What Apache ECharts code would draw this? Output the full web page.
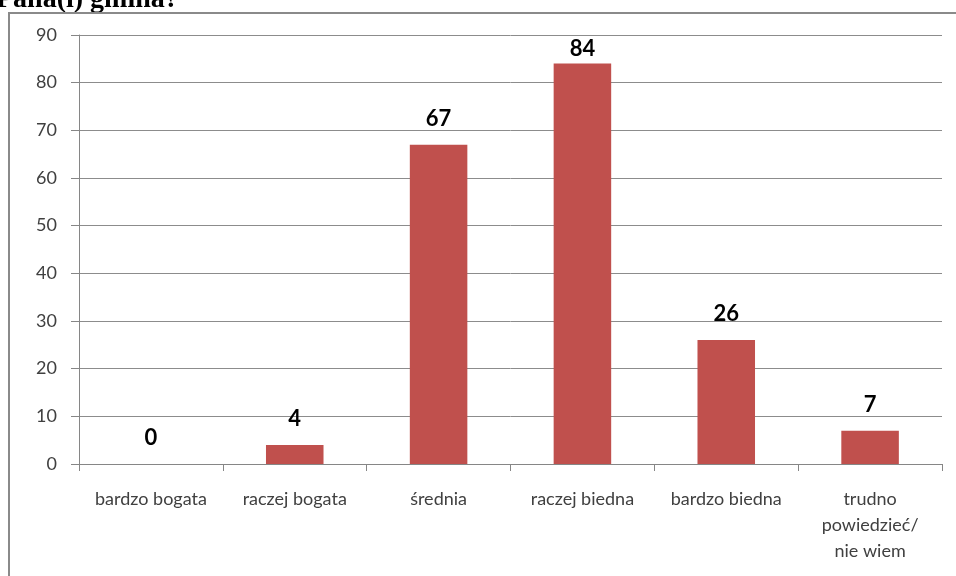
<!DOCTYPE html>
<html>
<head>
<meta charset="utf-8">
<script src="https://cdn.jsdelivr.net/npm/echarts@6/dist/echarts.min.js"></script>
<style>
  html, body { margin: 0; padding: 0; background: #fff; }
  #chart { width: 956px; height: 576px; }
</style>
</head>
<body>
<div id="chart"></div>
<script>
const categories = ["bardzo bogata", "raczej bogata", "średnia", "raczej biedna", "bardzo biedna", "trudno\npowiedzieć/\nnie wiem"]
const values = [0, 4, 67, 84, 26, 7]
const yTicks = { min: 0, max: 90, interval: 10 }
const titleText = "Pana(i) gmina?"

const chart = echarts.init(document.getElementById("chart"))

// the tallest label sits closer to its bar (as in the original chart)
const barData = values.map((v, i) =>
  i === 3 ? { value: v, label: { distance: 4 } } : v
)

const option = {
  animation: false,
  graphic: [
    {
      type: "text",
      left: -4,
      top: -14,
      style: {
        text: titleText,
        font: "bold 28px 'Liberation Serif'",
        fill: "#000"
      }
    },
    {
      type: "rect",
      shape: { x: 9, y: 13, width: 1000, height: 700 },
      style: { fill: "none", stroke: "#8a8a8a", lineWidth: 2 }
    }
  ],
  grid: { left: 79, right: 14, top: 35, bottom: 112 },
  xAxis: {
    type: "category",
    data: categories,
    axisLine: { lineStyle: { color: "#868686" } },
    axisTick: { show: true, length: 7, lineStyle: { color: "#868686" } },
    axisLabel: {
      interval: 0,
      margin: 22,
      color: "#404040",
      fontFamily: "Lato",
      fontSize: 18,
      lineHeight: 26
    }
  },
  yAxis: {
    type: "value",
    min: yTicks.min,
    max: yTicks.max,
    interval: yTicks.interval,
    axisLine: { show: true, lineStyle: { color: "#868686" } },
    axisTick: { show: true, length: 8, lineStyle: { color: "#868686" } },
    splitLine: { lineStyle: { color: "#8c8c8c" } },
    axisLabel: {
      margin: 22,
      color: "#404040",
      fontFamily: "Lato",
      fontSize: 18
    }
  },
  series: [
    {
      type: "bar",
      data: barData,
      barWidth: "40%",
      itemStyle: { color: "#c0504d" },
      label: {
        show: true,
        position: "top",
        distance: 15,
        color: "#000",
        fontFamily: "Lato",
        fontWeight: "bold",
        fontSize: 22
      }
    }
  ]
}

chart.setOption(option)
</script>
</body>
</html>
